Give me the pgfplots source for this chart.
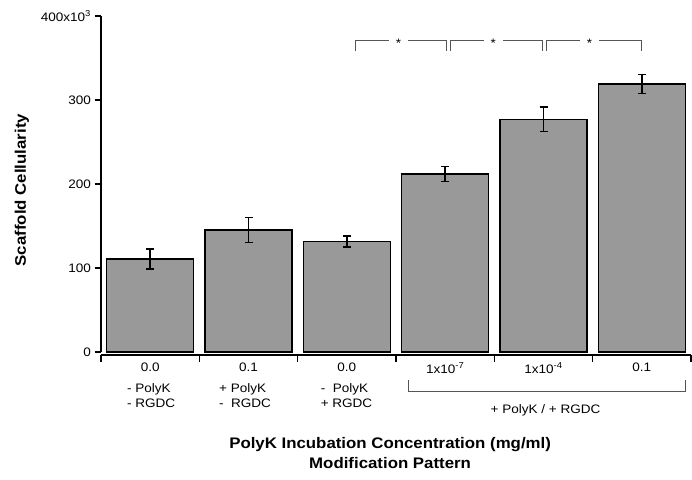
\documentclass[border=0pt]{standalone}
\usepackage{fontspec}
\setmainfont{Liberation Sans}[FakeStretch=1.1]
\usepackage{pgfplots}
\pgfplotsset{compat=1.18}
\usetikzlibrary{calc}
\definecolor{BarGray}{HTML}{999999}
\definecolor{BrkGray}{HTML}{555555}

\begin{document}
\begin{tikzpicture}
\begin{axis}[
  at={(0,0)}, anchor=south west,
  scale only axis, width=590pt, height=336pt,
  xmin=-0.5, xmax=5.5, ymin=0, ymax=400,
  ybar, bar width=87pt,
  clip=false,
  axis lines=left, axis line style={line width=1.6pt,-},
  axis x line shift=3pt,
  tick align=outside, major tick length=6.5pt,
  tick style={line width=1.5pt, black},
  xtick={-0.5,0.5,...,5.5},
  x tick label as interval,
  xticklabels={0.0, 0.1, 0.0, 1x10\textsuperscript{-7}, 1x10\textsuperscript{-4}, 0.1},
  ytick={0,100,200,300,400},
  yticklabels={0,100,200,300,400x10\textsuperscript{3}},
  ticklabel style={font=\fontsize{12.3}{14}\selectfont},
  xticklabel style={yshift=2pt},
  ylabel={Scaffold Cellularity},
  ylabel style={at={(axis description cs:-0.134,0.482)}, anchor=center,
    font=\bfseries\fontsize{15.3}{18}\selectfont},
  xlabel={PolyK Incubation Concentration (mg/ml)\\Modification Pattern},
  xlabel style={at={(axis description cs:0.49,-0.30)}, anchor=center, align=center,
    font=\bfseries\fontsize{15.3}{20}\selectfont},
]
\addplot[fill=BarGray, draw=black, line width=1.6pt,
  error bars/.cd, y dir=both, y explicit,
  error mark=|,
  error bar style={line width=1.4pt, black},
  error mark options={mark size=4pt, line width=1.4pt, black}]
  coordinates {
  (0,110.7) +- (0,12)
  (1,145.2) +- (0,15)
  (2,131.7) +- (0,6.5)
  (3,212.0) +- (0,9)
  (4,277.0) +- (0,14.5)
  (5,319.0) +- (0,11)
};
\coordinate (O) at (rel axis cs:0,0);
% significance brackets
\draw[BrkGray, line width=0.9pt] (axis cs:2.087,358.7) -- (axis cs:2.087,370.6) -- (axis cs:3.015,370.6) -- (axis cs:3.015,358.7);
\draw[BrkGray, line width=0.9pt] (axis cs:3.056,358.7) -- (axis cs:3.056,370.6) -- (axis cs:3.988,370.6) -- (axis cs:3.988,358.7);
\draw[BrkGray, line width=0.9pt] (axis cs:4.028,358.7) -- (axis cs:4.028,370.6) -- (axis cs:4.997,370.6) -- (axis cs:4.997,358.7);
\node[fill=white, inner xsep=7pt, inner ysep=1pt, font=\fontsize{12.3}{14}\selectfont, yshift=-2.5pt] at (axis cs:2.525,370.6) {*};
\node[fill=white, inner xsep=7pt, inner ysep=1pt, font=\fontsize{12.3}{14}\selectfont, yshift=-2.5pt] at (axis cs:3.49,370.6) {*};
\node[fill=white, inner xsep=7pt, inner ysep=1pt, font=\fontsize{12.3}{14}\selectfont, yshift=-2.5pt] at (axis cs:4.467,370.6) {*};
% modification pattern labels
\node[anchor=west, align=left, inner sep=0pt, font=\fontsize{12.3}{15}\selectfont] at (axis cs:-0.237,-51.8) {- PolyK\\- RGDC};
\node[anchor=west, align=left, inner sep=0pt, font=\fontsize{12.3}{15}\selectfont] at (axis cs:0.699,-51.8) {+ PolyK\\-\ \ RGDC};
\node[anchor=west, align=left, inner sep=0pt, font=\fontsize{12.3}{15}\selectfont] at (axis cs:1.733,-51.8) {-\ \ PolyK\\+ RGDC};
\draw[BrkGray, line width=0.9pt] (axis cs:2.631,-33.3) -- (axis cs:2.631,-46.4) -- (axis cs:5.445,-46.4) -- (axis cs:5.445,-33.3);
\node[font=\fontsize{12.3}{14}\selectfont] at (axis cs:4.021,-69) {+ PolyK / + RGDC};
\end{axis}
\pgfresetboundingbox
\path ($(O)+(-101pt,-127pt)$) rectangle ($(O)+(591pt,352pt)$);
\end{tikzpicture}
\end{document}
